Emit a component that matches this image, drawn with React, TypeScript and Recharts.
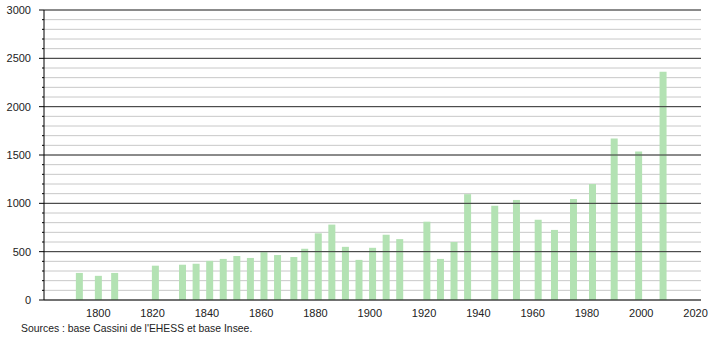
import { BarChart, Bar, XAxis, YAxis, CartesianGrid, ReferenceLine } from "recharts";

const years = [
  1793, 1800, 1806, 1821, 1831, 1836, 1841, 1846, 1851, 1856, 1861, 1866, 1872,
  1876, 1881, 1886, 1891, 1896, 1901, 1906, 1911, 1921, 1926, 1931, 1936, 1946,
  1954, 1962, 1968, 1975, 1982, 1990, 1999, 2008,
];
const population = [
  280, 250, 280, 355, 365, 375, 405, 425, 455, 435, 495, 465, 445, 530, 690,
  780, 550, 415, 540, 675, 630, 810, 425, 600, 1095, 975, 1035, 830, 725, 1045,
  1200, 1670, 1535, 2360,
];
const xTicks = [1800, 1820, 1840, 1860, 1880, 1900, 1920, 1940, 1960, 1980, 2000, 2020];
const yTicks = Array.from({ length: 31 }, (_, i) => i * 100);
const majorTicks = [500, 1000, 1500, 2000, 2500, 3000];

const data = years.map((year, i) => ({ year, population: population[i] }));

const FONT = "'Liberation Sans', Arial, sans-serif";

function YTick(props: any) {
  const { x, y, payload } = props;
  const major = payload.value % 500 === 0;
  return (
    <g>
      <line x1={x - (major ? 5 : 2)} x2={x} y1={y} y2={y} stroke="#000" strokeWidth={1} />
      {major && (
        <text x={x - 13} y={y + 4} textAnchor="end" fontSize={11} fill="#222" fontFamily={FONT}>
          {payload.value}
        </text>
      )}
    </g>
  );
}

export default function App() {
  return (
    <div style={{ position: "absolute", left: 0, top: 0, width: 710, height: 340, background: "#fff" }}>
      <BarChart
        width={710}
        height={320}
        data={data}
        margin={{ top: 10, right: 9, left: 0, bottom: 0 }}
        barSize={7}
      >
        <CartesianGrid vertical={false} stroke="#c8c8c8" />
        {majorTicks.map((v) => (
          <ReferenceLine key={v} y={v} stroke="#333" strokeWidth={1} />
        ))}
        <XAxis
          dataKey="year"
          type="number"
          domain={[1780, 2022]}
          ticks={xTicks}
          tickLine={false}
          tickMargin={3}
          axisLine={{ stroke: "#000" }}
          height={20}
          tick={{ fontSize: 11, fill: "#222", fontFamily: FONT }}
          allowDataOverflow
        />
        <YAxis
          domain={[0, 3000]}
          ticks={yTicks}
          interval={0}
          width={44}
          tickSize={0}
          tickMargin={0}
          axisLine={{ stroke: "#000" }}
          tick={<YTick />}
        />
        <Bar dataKey="population" fill="#b3e2b3" isAnimationActive={false} />
      </BarChart>
      <div
        style={{
          position: "absolute",
          left: 21,
          top: 323,
          fontSize: 10.4,
          fontFamily: FONT,
          color: "#222",
        }}
      >
        Sources : base Cassini de l'EHESS et base Insee.
      </div>
    </div>
  );
}
